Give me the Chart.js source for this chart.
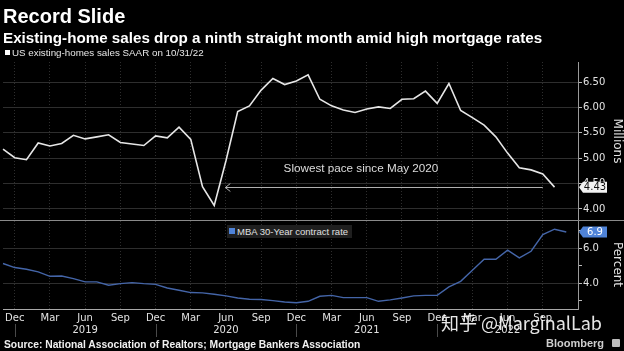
<!DOCTYPE html>
<html lang="en">
<head>
<meta charset="utf-8">
<title>Record Slide</title>
<script src="https://cdn.jsdelivr.net/npm/chart.js@4.4.1/dist/chart.umd.min.js"></script>
<style>
  html, body { margin: 0; padding: 0; background: #000; }
  #wrap { position: relative; width: 624px; height: 351px; overflow: hidden; background: #000;
          font-family: "Liberation Sans", Arial, sans-serif; }
  #chart { position: absolute; left: 0; top: 0; }
  .t { position: absolute; white-space: nowrap; }
  #title { left: 3px; top: 5.5px; font-size: 20px; line-height: 20px; font-weight: bold; color: #fff; }
  #subtitle { left: 3px; top: 30px; font-size: 15.2px; line-height: 15.2px; font-weight: bold; color: #fff; }
  #sq1 { position: absolute; left: 5px; top: 50px; width: 5px; height: 5px; background: #fff; }
  #legend1 { left: 12px; top: 48px; font-size: 9.8px; line-height: 9.8px; color: #e6e6e6; }
  #box2 { position: absolute; left: 227px; top: 225px; width: 125px; height: 13px; background: #1f1f1f; }
  #sq2 { position: absolute; left: 229px; top: 228px; width: 6px; height: 6px; background: #4f83d8; }
  #legend2 { left: 237px; top: 227px; font-size: 9.5px; line-height: 9.5px; color: #e0e0e0; }
  #source { left: 4px; top: 339.6px; font-size: 10.3px; line-height: 10.3px; font-weight: bold; color: #f0f0f0; }
  #brand { left: 546px; top: 337.7px; font-size: 11px; line-height: 11px; font-weight: bold; color: #cfcfcf; }
  #icon { position: absolute; left: 612px; top: 339px; width: 8px; height: 8px; background: #bdbdbd; border-radius: 1px; }
  #mark { left: 441px; top: 312.6px; font-family: "Noto Sans CJK SC", sans-serif; font-size: 18px; line-height: 18px;
          color: rgba(255,255,255,0.9); }
</style>
</head>
<body>
<div id="wrap">
  <canvas id="chart" width="624" height="351"></canvas>
  <div class="t" id="title">Record Slide</div>
  <div class="t" id="subtitle">Existing-home sales drop a ninth straight month amid high mortgage rates</div>
  <div id="sq1"></div>
  <div class="t" id="legend1">US existing-homes sales SAAR on 10/31/22</div>
  <div id="box2"></div>
  <div id="sq2"></div>
  <div class="t" id="legend2">MBA 30-Year contract rate</div>
  <div class="t" id="source">Source: National Association of Realtors; Mortgage Bankers Association</div>
  <div class="t" id="brand">Bloomberg</div>
  <div id="icon"></div>
  <div class="t" id="mark">知乎 @MarginalLab</div>
</div>
<script>
// ===== Categorii: lunile Nov 2018 .. Dec 2022 =====
const monthNames = ["Jan", "Feb", "Mar", "Apr", "May", "Jun", "Jul", "Aug", "Sep", "Oct", "Nov", "Dec"];
const months = [];
for (let i = 0; i < 50; i++) {
  const d = new Date(2018, 10 + i, 1);
  months.push(`${monthNames[d.getMonth()]} ${d.getFullYear()}`);
}
const tickMonths = ["Dec", "Mar", "Jun", "Sep"]; // etichete pe axa X
const yearMonth = "Jun";                          // anul apare sub iunie

// ===== Serii =====
// vanzari case existente SAAR, milioane (Nov 2018 .. Oct 2022)
const sales = [5.18, 5.01, 4.97, 5.30, 5.24, 5.29, 5.45, 5.38, 5.42, 5.46,
  5.31, 5.28, 5.25, 5.44, 5.40, 5.61, 5.37, 4.44, 4.07, 4.95,
  5.92, 6.03, 6.34, 6.57, 6.45, 6.52, 6.64, 6.16, 6.03, 5.95,
  5.90, 5.97, 6.01, 5.98, 6.16, 6.17, 6.32, 6.08, 6.47, 5.94,
  5.80, 5.65, 5.42, 5.10, 4.81, 4.77, 4.69, 4.43];
// MBA 30-Year contract rate, % (Nov 2018 .. Nov 2022)
const rate = [5.13, 4.90, 4.80, 4.65, 4.40, 4.42, 4.27, 4.08, 4.08, 3.89,
  3.98, 4.04, 3.98, 3.94, 3.73, 3.60, 3.47, 3.45, 3.37, 3.28,
  3.16, 3.09, 3.07, 3.01, 2.93, 2.89, 2.97, 3.26, 3.31, 3.18,
  3.18, 3.18, 2.97, 3.05, 3.16, 3.28, 3.31, 3.31, 3.79, 4.11,
  4.74, 5.37, 5.37, 5.89, 5.45, 5.83, 6.78, 7.09, 6.93];

// ===== Ticks axe Y =====
const salesTicks = [4.0, 4.5, 5.0, 5.5, 6.0, 6.5];
const rateTicks = [3, 4, 5, 6, 7];

// ===== Adnotare =====
const noteText = "Slowest pace since May 2020";
const arrowFrom = 18.95; // index luna (May 2020 ~)
const arrowTo = 46;      // Sep 2022

const GRID = "#2e2e2e";
const TEXT = "#e2e2e2";

function valueTag(ctx, left, yPix, text, fill, color) {
  const h = 5.5;
  ctx.beginPath();
  ctx.moveTo(left + 1, yPix);
  ctx.lineTo(left + 5, yPix - h);
  ctx.lineTo(left + 29, yPix - h);
  ctx.lineTo(left + 29, yPix + h);
  ctx.lineTo(left + 5, yPix + h);
  ctx.closePath();
  ctx.fillStyle = fill;
  ctx.fill();
  ctx.fillStyle = color;
  ctx.font = '10px "DejaVu Sans"';
  ctx.textAlign = "center";
  ctx.textBaseline = "middle";
  ctx.fillText(text, left + 17, yPix + 0.5);
}

const overlay = {
  id: "overlay",
  afterDraw(chart) {
    const { ctx, scales: { x, ySales, yRate } } = chart;
    ctx.save();

    // linie de separare intre panouri
    ctx.strokeStyle = "#8a8a8a";
    ctx.lineWidth = 1;
    ctx.beginPath();
    ctx.moveTo(0, Math.round(ySales.bottom) + 0.5);
    ctx.lineTo(chart.width, Math.round(ySales.bottom) + 0.5);
    ctx.stroke();

    // separatori de an sub axa X
    ctx.strokeStyle = "#4a4a4a";
    months.forEach((m, i) => {
      if (!m.startsWith("Dec")) return;
      const px = Math.round(x.getPixelForValue(i)) + 0.5;
      if (px > x.right - 2) return;
      ctx.beginPath();
      ctx.moveTo(px, 324);
      ctx.lineTo(px, 337);
      ctx.stroke();
    });

    // sageata + text
    const last = sales[sales.length - 1];
    const ay = Math.round(ySales.getPixelForValue(last)) + 0.5;
    const ax1 = x.getPixelForValue(arrowFrom);
    const ax2 = x.getPixelForValue(arrowTo);
    ctx.strokeStyle = "#b0b0b0";
    ctx.beginPath();
    ctx.moveTo(ax1, ay);
    ctx.lineTo(ax2, ay);
    ctx.moveTo(ax1 + 5, ay - 4);
    ctx.lineTo(ax1, ay);
    ctx.lineTo(ax1 + 5, ay + 4);
    ctx.stroke();
    ctx.fillStyle = "#dcdcdc";
    ctx.font = '11.7px "Liberation Sans"';
    ctx.textAlign = "center";
    ctx.textBaseline = "alphabetic";
    ctx.fillText(noteText, x.getPixelForValue(30.5), ay - 15.5);

    // etichete valori curente
    valueTag(ctx, ySales.left, ySales.getPixelForValue(last), last.toFixed(2), "#f2f2f2", "#111");
    const lastRate = rate[rate.length - 1];
    valueTag(ctx, yRate.left, yRate.getPixelForValue(lastRate), lastRate.toFixed(1), "#4f83d8", "#fff");

    ctx.restore();
  }
};

const ctx = document.getElementById("chart").getContext("2d");
new Chart(ctx, {
  type: "line",
  data: {
    labels: months,
    datasets: [
      { data: sales, yAxisID: "ySales", borderColor: "#e6e6e6", borderWidth: 1.6, pointRadius: 0, tension: 0 },
      { data: rate, yAxisID: "yRate", borderColor: "#4465a8", borderWidth: 1.4, pointRadius: 0, tension: 0 }
    ]
  },
  options: {
    responsive: false,
    animation: false,
    devicePixelRatio: 1,
    layout: { padding: { top: 62, left: 0, right: 0, bottom: 0 } },
    plugins: { legend: { display: false }, tooltip: { enabled: false } },
    scales: {
      x: {
        type: "category",
        offset: false,
        afterFit: s => { s.height = 42; },
        grid: {
          drawTicks: false,
          color: c => tickMonths.includes(months[c.index]?.split(" ")[0]) ? GRID : "transparent"
        },
        border: { display: true, color: "#a8a8a8", dash: [1, 2] },
        ticks: {
          autoSkip: false, maxRotation: 0, minRotation: 0, padding: 3,
          color: TEXT, font: { family: "DejaVu Sans", size: 10 },
          callback: (v, i) => {
            if (i === months.length - 1) return "";
            const [mon, yr] = months[i].split(" ");
            if (!tickMonths.includes(mon)) return "";
            return mon === yearMonth ? [mon, yr] : mon;
          }
        }
      },
      ySales: {
        type: "linear", position: "right", stack: "right", stackWeight: 158,
        min: 3.783, max: 6.894,
        afterFit: s => { s.width = 46; },
        afterBuildTicks: s => { s.ticks = salesTicks.map(v => ({ value: v })); },
        grid: { color: GRID, tickColor: "#bbbbbb", tickLength: 4 },
        border: { color: "#9a9a9a" },
        ticks: { autoSkip: false, padding: 1, color: TEXT, font: { family: "DejaVu Sans", size: 10 }, callback: v => v.toFixed(2) },
        title: { display: true, text: "Millions", color: TEXT, padding: 0, font: { family: "DejaVu Sans", size: 12 } }
      },
      yRate: {
        type: "linear", position: "right", stack: "right", stackWeight: 89,
        min: 2.531, max: 7.617,
        afterFit: s => { s.width = 46; },
        afterBuildTicks: s => { s.ticks = rateTicks.map(v => ({ value: v })); },
        grid: { color: c => (c.tick && c.tick.value % 2 === 0) ? GRID : "transparent", tickColor: "#bbbbbb", tickLength: 4 },
        border: { color: "#9a9a9a" },
        ticks: { autoSkip: false, padding: 1, color: TEXT, font: { family: "DejaVu Sans", size: 10 }, callback: v => (v % 2 === 0 && v < 7) ? v.toFixed(1) : "" },
        title: { display: true, text: "Percent", color: TEXT, padding: 0, font: { family: "DejaVu Sans", size: 12 } }
      }
    }
  },
  plugins: [overlay]
});
</script>
</body>
</html>
